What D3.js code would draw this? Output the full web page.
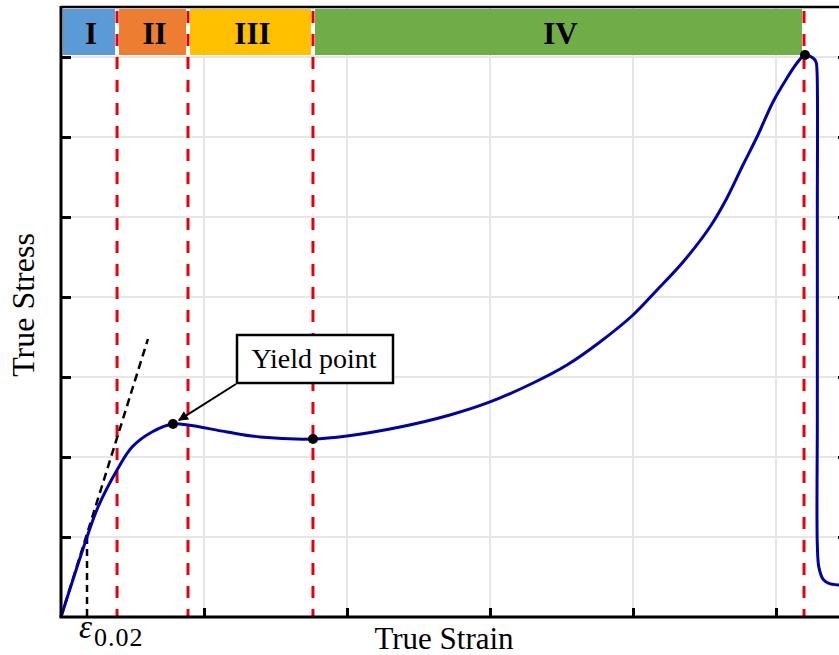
<!DOCTYPE html>
<html>
<head>
<meta charset="utf-8">
<script src="https://cdn.jsdelivr.net/npm/d3@7"></script>
<style>
  html, body { margin: 0; padding: 0; background: #fff; }
  svg { display: block; font-family: "Liberation Serif", "Times New Roman", serif; }
</style>
</head>
<body>
<svg id="chart" width="839" height="655"></svg>
<script>
// curve (units = grid steps)
const strain = [0, 0.182, 0.259, 0.392, 0.497, 0.636, 0.783, 0.888, 1.161, 1.392, 1.762, 2.0, 2.371,
  2.72, 3.0, 3.301, 3.538, 3.769, 4.0, 4.168, 4.35, 4.538, 4.657, 4.769, 4.867, 4.979, 5.077, 5.147,
  5.203, 5.259, 5.280, 5.287, 5.289, 5.289, 5.289, 5.300, 5.330, 5.370, 5.44, 5.49];
const stress = [0, 1.0, 1.375, 1.838, 2.125, 2.313, 2.413, 2.40, 2.313, 2.25, 2.225, 2.263, 2.375,
  2.525, 2.688, 2.925, 3.15, 3.438, 3.775, 4.088, 4.438, 4.875, 5.238, 5.65, 6.0, 6.438, 6.738, 6.925,
  7.025, 6.988, 6.938, 6.813, 5.0, 2.5, 0.9, 0.62, 0.47, 0.42, 0.40, 0.40];

// stage boundaries and names
const stageBounds = [0, 0.392, 0.888, 1.762, 5.196];
const stageNames = ['I', 'II', 'III', 'IV'];
const stageColors = ['#5b9bd5', '#ed7d31', '#ffc000', '#70ad47'];

// marked points: yield, lower yield, peak
const markX = [0.783, 1.762, 5.203];
const markY = [2.413, 2.225, 7.025];

// elastic tangent and offset strain
const tangentX = [0, 0.608];
const tangentY = [0, 3.475];
const epsX = 0.182;
const epsY = 1.0;

const gridX = [1, 2, 3, 4, 5];
const gridY = [1, 2, 3, 4, 5, 6, 7];

const svg = d3.select('#chart');
const plotLeft = 61, plotTop = 7, plotRight = 846, plotBottom = 617;
const bandTop = 9, bandBottom = 55;

const x = d3.scaleLinear().domain([0, (plotRight - plotLeft) / 143]).range([plotLeft, plotRight]);
const y = d3.scaleLinear().domain([0, (plotBottom - plotTop) / 80]).range([plotBottom, plotTop]);

// grid
svg.append('g').selectAll('line').data(gridX).join('line')
  .attr('x1', d => x(d)).attr('x2', d => x(d))
  .attr('y1', plotTop).attr('y2', plotBottom)
  .attr('stroke', '#e6e6e6').attr('stroke-width', 2);
svg.append('g').selectAll('line').data(gridY).join('line')
  .attr('x1', plotLeft).attr('x2', plotRight)
  .attr('y1', d => y(d)).attr('y2', d => y(d))
  .attr('stroke', '#e6e6e6').attr('stroke-width', 2);

// stage bands
const stages = stageNames.map((n, i) => ({ name: n, x0: stageBounds[i], x1: stageBounds[i + 1], color: stageColors[i] }));
svg.append('g').selectAll('rect').data(stages).join('rect')
  .attr('x', d => x(d.x0) + 2)
  .attr('width', d => x(d.x1) - x(d.x0) - 4)
  .attr('y', bandTop).attr('height', bandBottom - bandTop)
  .attr('fill', d => d.color);
svg.append('g').selectAll('text').data(stages).join('text')
  .attr('x', d => (x(d.x0) + x(d.x1)) / 2 + 2)
  .attr('y', 44)
  .attr('text-anchor', 'middle')
  .attr('font-size', 31).attr('font-weight', 'bold')
  .text(d => d.name);

// red dashed stage boundaries
svg.append('g').selectAll('line').data(stageBounds.slice(1)).join('line')
  .attr('x1', d => x(d)).attr('x2', d => x(d))
  .attr('y1', plotTop).attr('y2', plotBottom)
  .attr('stroke', '#e8000b').attr('stroke-width', 3)
  .attr('stroke-dasharray', '12,11').attr('stroke-dashoffset', 19);

// elastic tangent
svg.append('line')
  .attr('x1', x(tangentX[0])).attr('y1', y(tangentY[0]))
  .attr('x2', x(tangentX[1])).attr('y2', y(tangentY[1]))
  .attr('stroke', '#000').attr('stroke-width', 2.5).attr('stroke-dasharray', '8,5');
svg.append('line')
  .attr('x1', x(epsX)).attr('y1', y(epsY))
  .attr('x2', x(epsX)).attr('y2', y(0))
  .attr('stroke', '#000').attr('stroke-width', 2.5).attr('stroke-dasharray', '7,5');

// stress-strain curve
const pts = strain.map((s, i) => [s, stress[i]]);
const line = d3.line()
  .x(d => x(d[0])).y(d => y(d[1]))
  .curve(d3.curveCatmullRom.alpha(0.5));
svg.append('path')
  .attr('d', line(pts))
  .attr('fill', 'none').attr('stroke', '#0000a8').attr('stroke-width', 3);

svg.append('g').selectAll('circle').data(markX).join('circle')
  .attr('cx', d => x(d)).attr('cy', (d, i) => y(markY[i]))
  .attr('r', 5).attr('fill', '#000');

// yield point annotation
const boxX = 237, boxY = 335, boxW = 156, boxH = 48;
svg.append('defs').append('marker')
  .attr('id', 'arrow').attr('viewBox', '0 0 10 10')
  .attr('refX', 9).attr('refY', 5)
  .attr('markerWidth', 6).attr('markerHeight', 5)
  .attr('markerUnits', 'strokeWidth')
  .attr('orient', 'auto')
  .append('path').attr('d', 'M0,0 L10,5 L0,10 z').attr('fill', '#000');
const yx = x(markX[0]), yy = y(markY[0]);
const ax = boxX - 1, ay = boxY + boxH + 1;
const len = Math.hypot(ax - yx, ay - yy);
svg.append('line')
  .attr('x1', ax).attr('y1', ay)
  .attr('x2', yx + (ax - yx) * 7 / len).attr('y2', yy + (ay - yy) * 7 / len)
  .attr('stroke', '#000').attr('stroke-width', 2)
  .attr('marker-end', 'url(#arrow)');
svg.append('rect')
  .attr('x', boxX).attr('y', boxY).attr('width', boxW).attr('height', boxH)
  .attr('fill', '#fff').attr('stroke', '#000').attr('stroke-width', 2.5);
svg.append('text')
  .attr('x', boxX + boxW / 2 - 1).attr('y', boxY + 33)
  .attr('text-anchor', 'middle').attr('font-size', 28)
  .text('Yield point');

// axes frame with inward ticks
svg.append('g').attr('transform', `translate(0,${plotBottom})`)
  .call(d3.axisTop(x).tickValues(gridX).tickSize(9).tickFormat(''))
  .call(g => g.select('.domain').remove())
  .selectAll('line').attr('stroke-width', 3);
svg.append('g').attr('transform', `translate(${plotLeft},0)`)
  .call(d3.axisRight(y).tickValues(gridY).tickSize(10).tickFormat(''))
  .call(g => g.select('.domain').remove())
  .selectAll('line').attr('stroke-width', 3);
svg.append('g').attr('transform', `translate(${plotRight},0)`)
  .call(d3.axisLeft(y).tickValues(gridY).tickSize(8).tickFormat(''))
  .call(g => g.select('.domain').remove())
  .selectAll('line').attr('stroke-width', 3);

svg.append('line').attr('x1', plotLeft).attr('x2', plotRight).attr('y1', plotTop).attr('y2', plotTop)
  .attr('stroke', '#000').attr('stroke-width', 2.5);
svg.append('line').attr('x1', plotLeft - 1.5).attr('x2', plotRight).attr('y1', plotBottom).attr('y2', plotBottom)
  .attr('stroke', '#000').attr('stroke-width', 3);
svg.append('line').attr('x1', plotLeft).attr('x2', plotLeft).attr('y1', plotTop - 1).attr('y2', plotBottom)
  .attr('stroke', '#000').attr('stroke-width', 3);
svg.append('line').attr('x1', plotRight).attr('x2', plotRight).attr('y1', plotTop - 1).attr('y2', plotBottom)
  .attr('stroke', '#000').attr('stroke-width', 3);

// labels
svg.append('text')
  .attr('x', 444).attr('y', 649)
  .attr('text-anchor', 'middle').attr('font-size', 31)
  .text('True Strain');
svg.append('text')
  .attr('transform', 'translate(34,305) rotate(-90)')
  .attr('text-anchor', 'middle').attr('font-size', 32)
  .text('True Stress');

const eps = svg.append('text').attr('x', x(epsX) - 8).attr('y', 638);
eps.append('tspan').attr('font-size', 33).attr('font-style', 'italic').text('ε');
eps.append('tspan').attr('font-size', 26).attr('dy', 8).attr('dx', 2)
  .attr('letter-spacing', 1).text('0.02');
</script>
</body>
</html>
